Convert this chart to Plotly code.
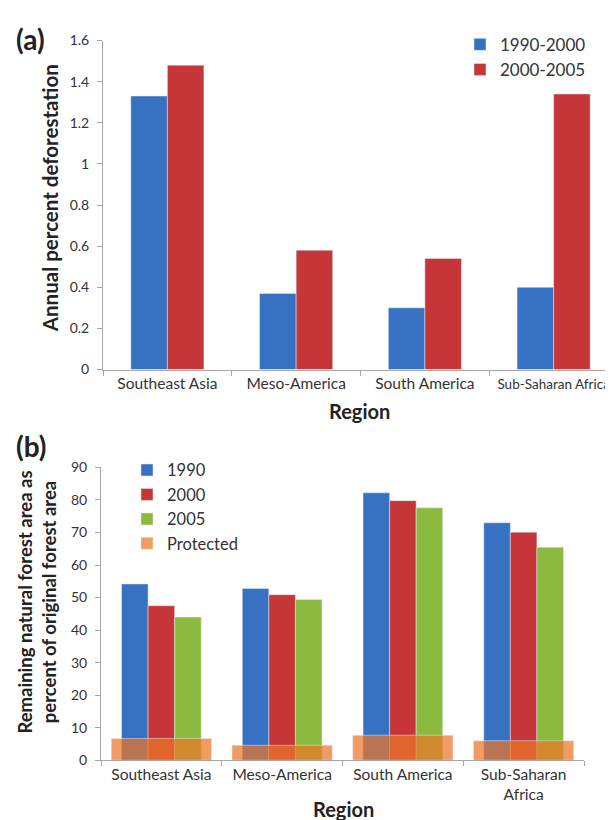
import plotly.graph_objects as go

regions_a = ["Southeast Asia", "Meso-America", "South America", "Sub-Saharan Africa"]
tick_labels_a = ["Southeast Asia", "Meso-America", "South America",
                 "<span style='font-size:13.5px'>Sub-Saharan Africa</span>"]
defor_1990_2000 = [1.33, 0.37, 0.30, 0.40]
defor_2000_2005 = [1.48, 0.58, 0.54, 1.34]

regions_b = ["Southeast Asia", "Meso-America", "South America", "Sub-Saharan<br>Africa"]
forest_1990 = [54.2, 52.8, 82.2, 73.0]
forest_2000 = [47.5, 50.9, 79.8, 70.1]
forest_2005 = [44.0, 49.4, 77.6, 65.5]
protected = [6.7, 4.6, 7.7, 6.0]

BLUE = "#3771c2"
RED = "#c63638"
GREEN = "#8cba3f"
ORANGE = "rgba(236,118,40,0.72)"
FONT = "Lato"
TXT = "#333333"

W, H = 613, 820
def px(x):
    return x / W
def py(y):
    return 1 - y / H

fig = go.Figure()

# Panel (a)
fig.add_trace(go.Bar(x=regions_a, y=defor_1990_2000, name="1990-2000", marker_color=BLUE,
                     width=0.284, offset=-0.284, xaxis="x", yaxis="y", legend="legend"))
fig.add_trace(go.Bar(x=regions_a, y=defor_2000_2005, name="2000-2005", marker_color=RED,
                     width=0.284, offset=0.0, xaxis="x", yaxis="y", legend="legend"))

# Panel (b)
bw = 0.22
fig.add_trace(go.Bar(x=regions_b, y=forest_1990, name="1990", marker_color=BLUE,
                     width=bw, offset=-1.5 * bw, xaxis="x2", yaxis="y2", legend="legend2"))
fig.add_trace(go.Bar(x=regions_b, y=forest_2000, name="2000", marker_color=RED,
                     width=bw, offset=-0.5 * bw, xaxis="x2", yaxis="y2", legend="legend2"))
fig.add_trace(go.Bar(x=regions_b, y=forest_2005, name="2005", marker_color=GREEN,
                     width=bw, offset=0.5 * bw, xaxis="x2", yaxis="y2", legend="legend2"))
fig.add_trace(go.Bar(x=regions_b, y=protected, name="Protected", marker_color=ORANGE,
                     width=0.83, offset=-0.415, xaxis="x2", yaxis="y2", legend="legend2"))

line_common = dict(showline=True, linecolor="#a6a6a6", linewidth=1, showgrid=False,
                   zeroline=False, ticks="outside", tickcolor="#a6a6a6", ticklen=5)
yfont = dict(family=FONT, size=14, color=TXT)

fig.update_layout(
    width=W, height=H,
    margin=dict(l=0, r=0, t=0, b=0),
    paper_bgcolor="white", plot_bgcolor="white",
    barmode="overlay",
    showlegend=True,
    font=dict(family=FONT, color="#222"),
    xaxis=dict(domain=[px(95), px(610)], anchor="y", tickson="boundaries", tickangle=0,
               tickmode="array", tickvals=regions_a, ticktext=tick_labels_a,
               tickfont=dict(family=FONT, size=15.5, color=TXT), **line_common),
    yaxis=dict(domain=[py(360), py(24)], anchor="x", range=[0, 1.6], dtick=0.2,
               tickfont=yfont, ticklabelstandoff=5, **line_common),
    xaxis2=dict(domain=[px(93), px(576)], anchor="y2", tickson="boundaries", tickangle=0,
                tickfont=dict(family=FONT, size=15.5, color=TXT), **line_common),
    yaxis2=dict(domain=[py(759), py(460)], anchor="x2", range=[0, 90], dtick=10,
                tickfont=yfont, ticklabelstandoff=5, **line_common),
    legend=dict(x=px(452), y=py(10), xanchor="left", yanchor="top",
                font=dict(family=FONT, size=17, color=TXT), bgcolor="rgba(0,0,0,0)"),
    legend2=dict(x=px(119), y=py(445), xanchor="left", yanchor="top",
                 font=dict(family=FONT, size=16.5, color=TXT), bgcolor="rgba(0,0,0,0)"),
)

ann = [
    dict(text="<b>(a)</b>", x=px(6), y=py(22), xanchor="left", yanchor="middle", font=dict(size=28)),
    dict(text="<b>Annual percent deforestation</b>", x=px(42), y=py(185), textangle=-90,
         xanchor="center", yanchor="middle", font=dict(size=20.5)),
    dict(text="<b>Region</b>", x=px(352), y=py(402), xanchor="center", yanchor="middle", font=dict(size=20)),
    dict(text="<b>(b)</b>", x=px(6), y=py(438), xanchor="left", yanchor="middle", font=dict(size=28)),
    dict(text="<b>Remaining natural forest area as<br>percent of original forest area</b>",
         x=px(29), y=py(598), textangle=-90, xanchor="center", yanchor="middle", font=dict(size=18.5)),
    dict(text="<b>Region</b>", x=px(335), y=py(809), xanchor="center", yanchor="middle", font=dict(size=20)),
]
for a in ann:
    a.update(xref="paper", yref="paper", showarrow=False)
    a["font"].update(family=FONT, color="#222")
fig.update_layout(annotations=ann)

fig.write_html("out.html")
